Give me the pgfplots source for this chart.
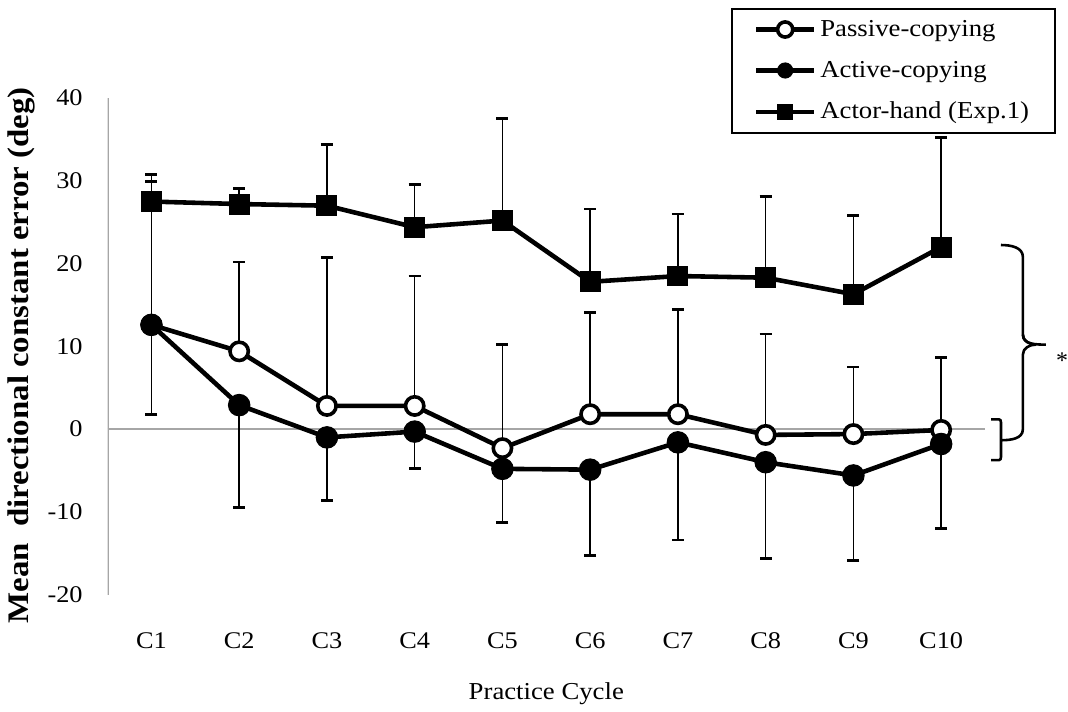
\documentclass[border=0pt]{standalone}
\usepackage{fontspec}
\setmainfont{Liberation Serif}
\newfontfamily\widefont{Liberation Serif}[FakeStretch=1.1]
\usepackage{pgfplots}
\pgfplotsset{compat=1.18}

\definecolor{axisgray}{HTML}{A6A6A6}

\begin{document}
\begin{tikzpicture}
% page frame, in pixel-like units (1 unit = 0.5pt, y downwards)
\begin{scope}[x=0.5pt,y=-0.5pt,yshift=354.5pt]
\useasboundingbox (0,0) rectangle (1068,709);
\end{scope}

\begin{axis}[
  at={(54pt,56pt)}, anchor=south west,
  scale only axis, width=440.5pt, height=249.25pt,
  xmin=0.5, xmax=10.5, ymin=-20, ymax=40,
  axis line style={draw=none},
  tick style={draw=none},
  xtick={1,...,10},
  xticklabels={C1,C2,C3,C4,C5,C6,C7,C8,C9,C10},
  ytick={-20,-10,0,10,20,30,40},
  yticklabels={-20,-10,0,10,20,30,40},
  tick label style={font=\widefont\fontsize{12}{14}\selectfont},
  yticklabel style={anchor=east, xshift=-9pt},
  xticklabel style={anchor=center, yshift=-23pt},
  xlabel={Practice Cycle},
  xlabel style={at={(axis description cs:0.5,-0.2)}, anchor=center,
                font=\widefont\fontsize{12.2}{14}\selectfont},
  ylabel={\textbf{Mean\ \ directional constant error (deg)}},
  ylabel style={at={(axis description cs:-0.0976,0.482)}, anchor=center,
                font=\widefont\fontsize{15}{17}\selectfont},
  legend style={at={(axis description cs:0.7106,1.1815)}, anchor=north west,
                draw=black, line width=1pt, fill=white,
                font=\widefont\fontsize{12.2}{14}\selectfont,
                row sep=7pt, inner xsep=11pt, inner ysep=3.5pt,
                /tikz/every even column/.append style={column sep=0pt}},
  legend cell align=left,
  legend image code/.code={%
    \draw[mark repeat=2,mark phase=2,line width=2.3pt,mark size=3.8pt]
      plot coordinates {(0pt,0pt)(14.5pt,0pt)(29pt,0pt)};},
  error bars/error bar style={line width=0.8pt, black},
  error bars/error mark options={rotate=90, line width=1.4pt, mark size=3pt, black},
]

% grey value axis and zero line
\draw[axisgray, line width=1.2pt] (axis cs:0.5,-20) -- (axis cs:0.5,40);
\draw[axisgray, line width=1.2pt] (axis cs:0.5,0) -- (axis cs:10.5,0);

% Passive-copying (upper error bars)
\addplot[black, line width=2.3pt, mark=*, mark size=4.6pt,
  mark options={fill=white, draw=black, line width=1.8pt, solid},
  error bars/.cd, y dir=plus, y explicit]
  table[x=c, y=m, y error=e] {
c m e
1 12.6 17.3
2 9.4 10.8
3 2.8 17.9
4 2.8 15.7
5 -2.3 12.5
6 1.8 12.3
7 1.8 12.7
8 -0.7 12.2
9 -0.6 8.1
10 -0.1 8.8
};
\addlegendentry{Passive-copying}

% Active-copying (lower error bars)
\addplot[black, line width=2.3pt, mark=*, mark size=5.4pt,
  mark options={fill=black, draw=black, line width=0.5pt, solid},
  error bars/.cd, y dir=minus, y explicit]
  table[x=c, y=m, y error=e] {
c m e
1 12.6 10.8
2 2.9 12.4
3 -1.0 7.6
4 -0.3 4.5
5 -4.8 6.5
6 -4.9 10.4
7 -1.6 11.8
8 -4.0 11.6
9 -5.6 10.3
10 -1.8 10.2
};
\addlegendentry{Active-copying}

% Actor-hand, Experiment 1 (upper error bars)
\addplot[black, line width=2.3pt, mark=square*, mark size=5pt,
  mark options={fill=black, draw=black, line width=0.5pt, solid},
  error bars/.cd, y dir=plus, y explicit]
  table[x=c, y=m, y error=e] {
c m e
1 27.5 3.3
2 27.2 1.9
3 27.0 7.4
4 24.4 5.2
5 25.2 12.3
6 17.8 8.8
7 18.5 7.5
8 18.3 9.8
9 16.3 9.5
10 22.0 13.2
};
\addlegendentry{Actor-hand (Exp.1)}
\end{axis}

% significance brackets on the right
\begin{scope}[x=0.5pt,y=-0.5pt,yshift=354.5pt, line width=1.3pt, black]
\draw (995,421) -- (1003,421) to[out=0,in=90] (1005,424) -- (1005,459)
      to[out=-90,in=0] (1003,462) -- (995,462);
\draw (1005,246) to[out=0,in=90] (1027,258) -- (1027,336)
      to[out=-90,in=180] (1050,346);
\draw (1027,336) to[out=-90,in=180] (1040,346);
\draw (1040,346) to[out=180,in=90] (1027,356) -- (1027,431)
      to[out=-90,in=0] (1005,442);
\node[anchor=west, inner sep=0pt, font=\fontsize{12}{14}\selectfont] at (1059,362) {*};
\end{scope}
\end{tikzpicture}
\end{document}
